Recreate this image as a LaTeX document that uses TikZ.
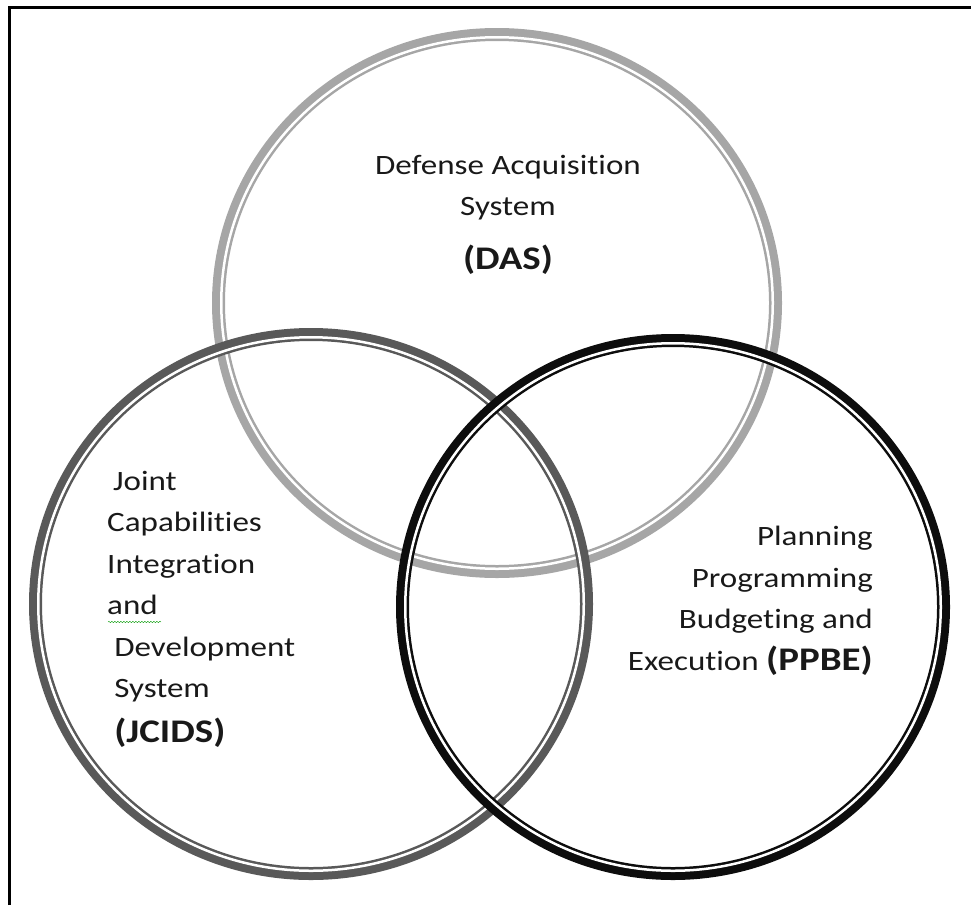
\documentclass[tikz,border=0pt]{standalone}
\usepackage{fontspec}
\setmainfont{Carlito}[Ligatures=NoCommon]
\usetikzlibrary{decorations.pathmorphing}
\definecolor{dasgray}{HTML}{A6A6A6}
\definecolor{jcidsgray}{HTML}{595959}
\definecolor{ppbeblack}{HTML}{0D0D0D}
\newcommand\acro[1]{{\fontsize{33}{41}\selectfont\bfseries #1}}
\newcommand\vennring[4]{%
  \draw[ring,#4] (#1) ellipse [x radius=#2-6.5, y radius=#3-6.5];
  \draw[ringgap] (#1) ellipse [x radius=#2-9.25, y radius=#3-9.25];}
\tikzset{
  ring/.style={line width=13pt},
  ringgap/.style={white, line width=2.5pt},
  vennlabel/.style={font=\fontsize{28}{41.5}\selectfont, text=black!90,
    inner sep=0pt, xscale=1.18, transform shape},
}

\begin{document}
\begin{tikzpicture}[x=1pt, y=-1pt]
    \useasboundingbox (0,0) rectangle (971,905);
    \draw[line width=3pt] (9,905) -- (9,7) -- (971,7);
    \coordinate (das) at (497,303);
    \coordinate (jcids) at (311,604);
    \coordinate (ppbe) at (673,607);
    \vennring{das}{285}{275}{dasgray}
    \vennring{jcids}{282}{276}{jcidsgray}
    \vennring{ppbe}{277}{273}{ppbeblack}
    \node[vennlabel, align=center, anchor=base] (dastext) at (508,269)
        {Defense Acquisition\\System\\[12pt]\acro{(DAS)}};
    \node[vennlabel, align=left, anchor=base west] (jcidstext) at (107,742)
        {\hspace*{5pt}Joint\\Capabilities\\Integration\\and\\
         \hspace*{6pt}Development\\\hspace*{6pt}System\\[3pt]\hspace*{6pt}\acro{(JCIDS)}};
    \node[vennlabel, align=right, anchor=base east] (ppbetext) at (873,670)
        {Planning\\Programming\\Budgeting and\\Execution \acro{(PPBE)}};
    \draw[green!60!black, decorate, decoration={snake, amplitude=0.7pt, segment length=3pt}]
        (108,622) -- (161,622);
\end{tikzpicture}
\end{document}
